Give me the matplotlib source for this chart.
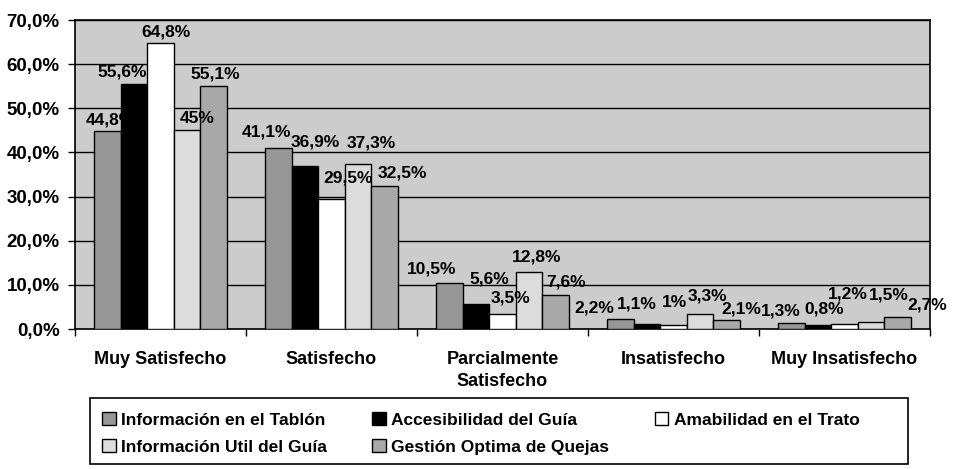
import numpy as np
import matplotlib.pyplot as plt
from matplotlib.patches import Rectangle

plt.rcParams['font.family'] = ['Liberation Sans', 'DejaVu Sans']
plt.rcParams['font.weight'] = 'bold'

categorias = ['Muy Satisfecho', 'Satisfecho', 'Parcialmente\nSatisfecho',
              'Insatisfecho', 'Muy Insatisfecho']
series = ['Información en el Tablón', 'Accesibilidad del Guía',
          'Amabilidad en el Trato', 'Información Util del Guía',
          'Gestión Optima de Quejas']
tablon = [44.8, 41.1, 10.5, 2.2, 1.3]
accesibilidad = [55.6, 36.9, 5.6, 1.1, 0.8]
amabilidad = [64.8, 29.5, 3.5, 1.0, 1.2]
util = [45.0, 37.3, 12.8, 3.3, 1.5]
quejas = [55.1, 32.5, 7.6, 2.1, 2.7]
valores = [tablon, accesibilidad, amabilidad, util, quejas]

colores = ['#969696', '#000000', '#FFFFFF', '#DCDCDC', '#A8A8A8']

# desplazamiento de las etiquetas (px) como en el original de Excel
lab_dx = [[3, -12, -18, -26, -11],
          [-12, 10, 13, -10, 6],
          [5, 17, 8, 1, 3],
          [10, 13, 8, 7, 18],
          [2, 18, 11, 15, 30]]
lab_dy = [[4, 8, 6, 4, 5],
          [4, 17, 18, 13, 9],
          [3, 13, 8, 15, 22],
          [4, 14, 8, 11, 20],
          [4, 5, 6, 3, 5]]

fig = plt.figure(figsize=(9.55, 4.69), dpi=100)
ax = fig.add_axes([75/955, 1-329/469, 855/955, 309/469])
ax.set_facecolor('#CCCCCC')

x = np.arange(len(categorias))
w = 0.155
handles = []
for i, vals in enumerate(valores):
    b = ax.bar(x + (i-2)*w, vals, w, color=colores[i], edgecolor='black',
               linewidth=1, zorder=3, label=series[i])
    handles.append(b)
    for j, v in enumerate(vals):
        txt = ('%g' % v).replace('.', ',') + '%'
        ax.annotate(txt, (x[j] + (i-2)*w, v),
                    xytext=(lab_dx[i][j]*0.72, lab_dy[i][j]*0.72),
                    textcoords='offset points', ha='center', va='bottom',
                    fontsize=12.5, fontweight='bold',
                    zorder=2.5 if i == 0 else 5, annotation_clip=False)

ax.set_xlim(-0.5, 4.5)
ax.set_ylim(0, 70)
ax.set_yticks(np.arange(0, 71, 10))
ax.set_yticklabels([('%.1f' % t).replace('.', ',') + '%' for t in np.arange(0, 71, 10)],
                   fontsize=13.5, fontweight='bold')
ax.yaxis.grid(True, color='black', linewidth=1)
ax.set_axisbelow(True)

ax.set_xticks(x)
ax.set_xticklabels(categorias, fontsize=13, fontweight='bold', linespacing=1.4)
ax.set_xticks(np.arange(-0.5, 5, 1), minor=True)
ax.tick_params(axis='x', which='major', length=0, pad=16)
ax.tick_params(axis='x', which='minor', length=5, direction='out', width=1)
ax.tick_params(axis='y', length=5, direction='out', width=1, pad=6)
for s in ax.spines.values():
    s.set_linewidth(1.2)

order = [0, 3, 1, 4, 2]
leg = fig.legend([handles[k] for k in order], [series[k] for k in order],
                 loc='upper left', bbox_to_anchor=(90/955, 1-400/469),
                 ncol=3, frameon=False, fontsize=12.5,
                 handlelength=0.8, handleheight=0.8, handletextpad=0.3,
                 columnspacing=2.6, labelspacing=0.65, borderpad=0.2)
for t in leg.get_texts():
    t.set_fontweight('bold')

fig.patches.append(Rectangle((90/955, 1-464/469), 818/955, 66/469,
                             transform=fig.transFigure, fill=False,
                             edgecolor='black', linewidth=1.2))

fig.savefig('out.png', dpi=100)
